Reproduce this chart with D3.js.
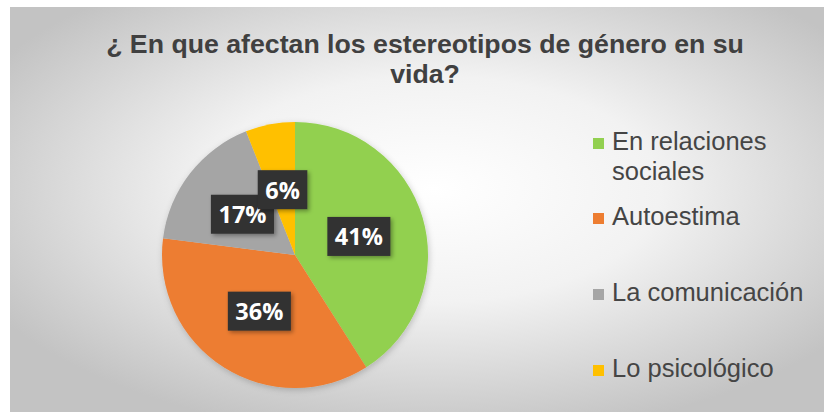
<!DOCTYPE html>
<html>
<head>
<meta charset="utf-8">
<script src="https://d3js.org/d3.v7.min.js"></script>
<style>
  html, body { margin: 0; padding: 0; background: #ffffff; }
  svg { display: block; }
</style>
</head>
<body>
<svg id="chart" width="828" height="412"></svg>
<script>
const categories = ["En relaciones sociales", "Autoestima", "La comunicación", "Lo psicológico"];
const legendLines = [["En relaciones", "sociales"], ["Autoestima"], ["La comunicación"], ["Lo psicológico"]];
const values = [41, 36, 17, 6];
const labels = ["41%", "36%", "17%", "6%"];
const colors = ["#92D050", "#ED7D31", "#A5A5A5", "#FFC000"];
const titleLines = ["¿ En que afectan los estereotipos de género en su", "vida?"];

const svg = d3.select("#chart");
const defs = svg.append("defs");

const grad = defs.append("radialGradient").attr("id", "bg")
  .attr("cx", "0.52").attr("cy", "0.45").attr("r", "0.62");
grad.append("stop").attr("offset", "0").attr("stop-color", "#ffffff");
grad.append("stop").attr("offset", "0.45").attr("stop-color", "#f2f2f2");
grad.append("stop").attr("offset", "1").attr("stop-color", "#c3c3c3");

const sh = defs.append("filter").attr("id", "shadow").attr("x", "-20%").attr("y", "-20%").attr("width", "140%").attr("height", "140%");
sh.append("feDropShadow").attr("dx", 2).attr("dy", 2).attr("stdDeviation", 2).attr("flood-color", "#000").attr("flood-opacity", 0.35);
const sh2 = defs.append("filter").attr("id", "pshadow").attr("x", "-20%").attr("y", "-20%").attr("width", "140%").attr("height", "140%");
sh2.append("feDropShadow").attr("dx", 1).attr("dy", 2).attr("stdDeviation", 3).attr("flood-color", "#000").attr("flood-opacity", 0.2);

svg.append("rect").attr("x", 10).attr("y", 7).attr("width", 814).attr("height", 405).attr("fill", "url(#bg)");

// Title
const title = svg.append("text")
  .attr("text-anchor", "middle")
  .attr("font-family", "'Liberation Sans', Arial, sans-serif")
  .attr("font-weight", "bold")
  .attr("font-size", 26.7)
  .attr("fill", "#404040");
titleLines.forEach((t, i) => {
  title.append("tspan").attr("x", 425).attr("y", 53 + i * 30).text(t);
});

// Pie
const cx = 295, cy = 255, R = 133;
const pie = d3.pie().sort(null).value(d => d)(values);
const arc = d3.arc().innerRadius(0).outerRadius(R);
const labelArc = d3.arc().innerRadius(0).outerRadius(R);

const g = svg.append("g").attr("transform", `translate(${cx},${cy})`);
g.append("g").attr("filter", "url(#pshadow)")
  .selectAll("path").data(pie).join("path")
  .attr("d", arc)
  .attr("fill", (d, i) => colors[i]);

// Labels
const lg = g.selectAll("g.lbl").data(pie).join("g").attr("class", "lbl")
  .attr("transform", d => { const c = labelArc.centroid(d); return `translate(${c[0]},${c[1]})`; });
const rects = lg.append("rect").attr("fill", "#333333").attr("filter", "url(#shadow)");
const txt = lg.append("text")
  .attr("text-anchor", "middle")
  .attr("dominant-baseline", "central")
  .attr("font-family", "'Open Sans', sans-serif")
  .attr("font-weight", "bold")
  .attr("font-size", 23.5)
  .attr("fill", "#ffffff")
  .text((d, i) => labels[i]);
txt.each(function(d, i) {
  const w = this.getComputedTextLength();
  const bw = w + 15, bh = 39;
  d3.select(this.parentNode).select("rect")
    .attr("x", -bw / 2).attr("y", -bh / 2).attr("width", bw).attr("height", bh);
});

// Legend
const legendY = [150, 225, 301, 377];
const leg = svg.append("g");
legendLines.forEach((lines, i) => {
  leg.append("rect").attr("x", 593).attr("y", legendY[i] - 12).attr("width", 11).attr("height", 11).attr("fill", colors[i]);
  const t = leg.append("text")
    .attr("font-family", "'Liberation Sans', Arial, sans-serif")
    .attr("font-size", 25.5)
    .attr("fill", "#454545");
  lines.forEach((l, j) => {
    t.append("tspan").attr("x", 612).attr("y", legendY[i] + j * 30).text(l);
  });
});
</script>
</body>
</html>
